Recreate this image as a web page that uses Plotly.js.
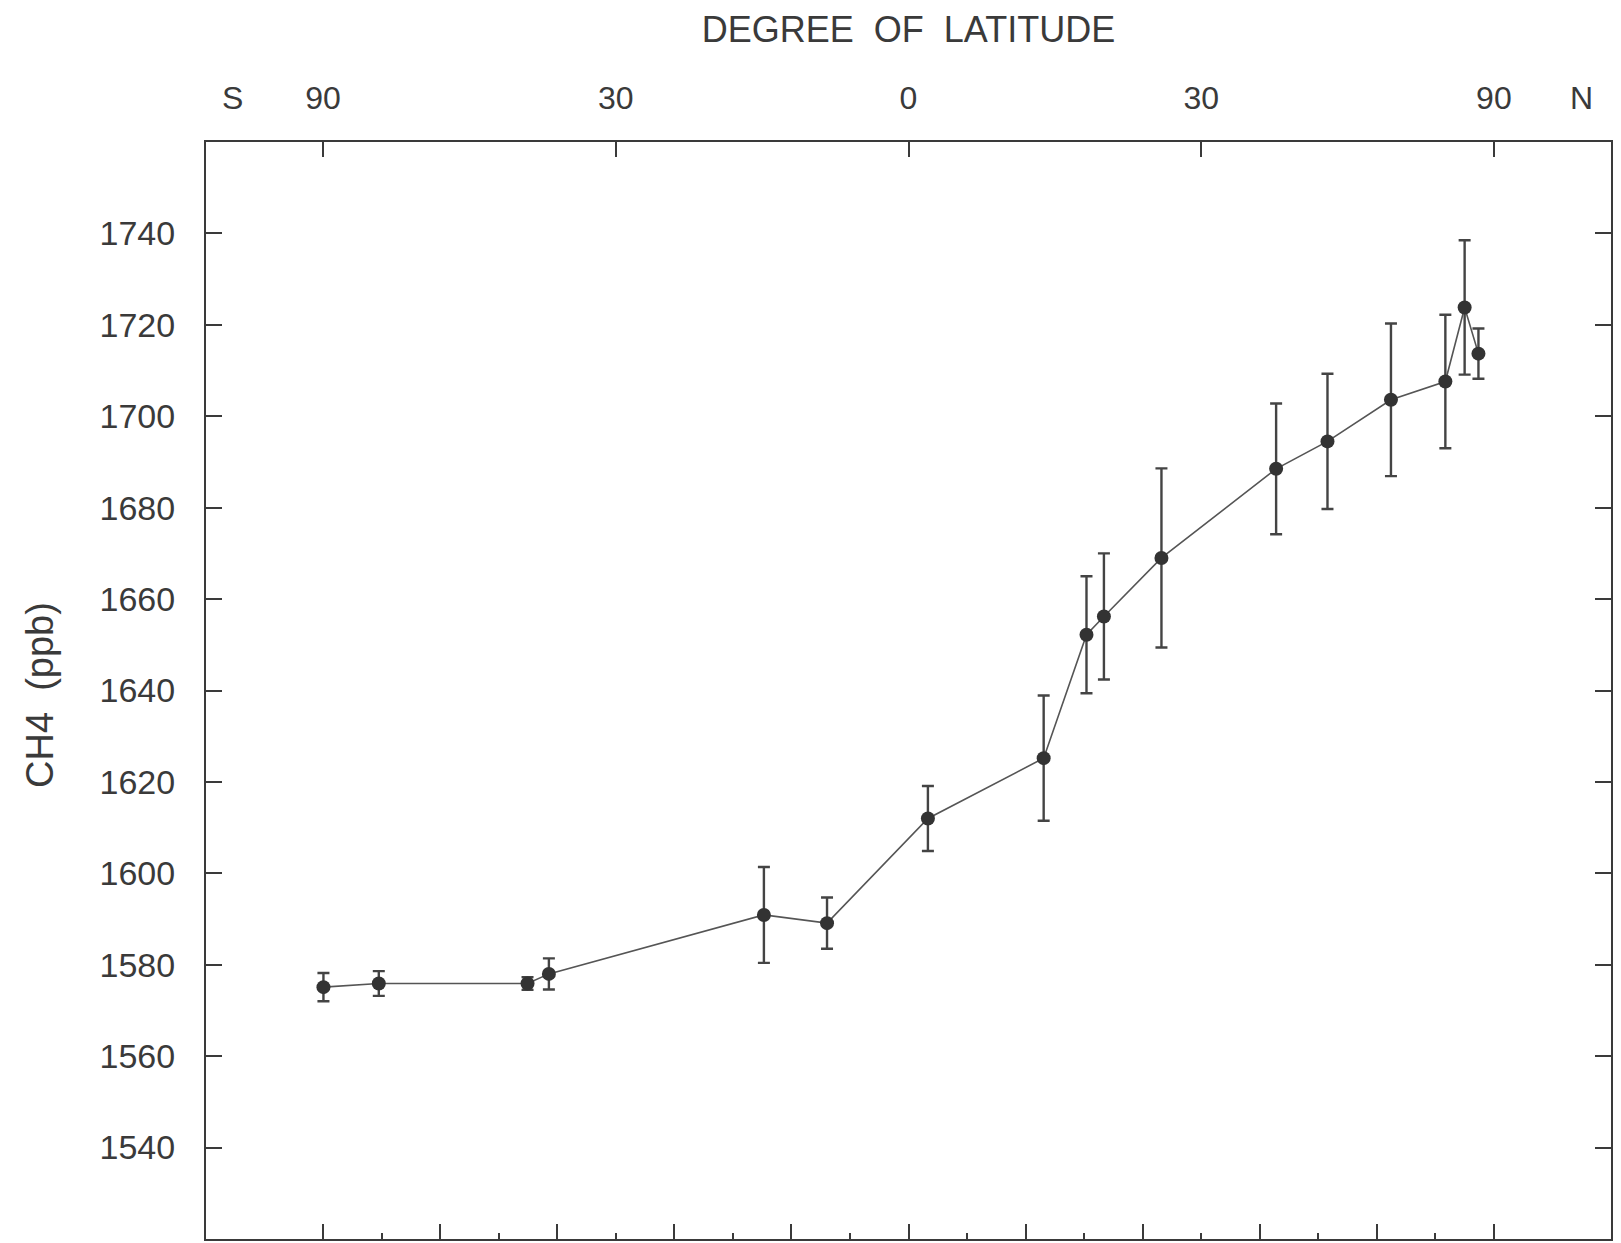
<!DOCTYPE html>
<html>
<head>
<meta charset="utf-8">
<script src="https://cdn.plot.ly/plotly-3.0.1.min.js"></script>
<style>
  html, body { margin: 0; padding: 0; background: #ffffff; }
  #chart { width: 1621px; height: 1243px; }
</style>
</head>
<body>
<div id="chart"></div>
<script>
// ---- data ----
// latitude of each station (degrees, negative = south)
const latitude = [-88, -64.8, -40.6, -37.9, -14.3, -8.0, 1.9, 13.35, 17.7, 19.5, 25.6, 38.9, 45.7, 55.5, 66.5, 71.8, 76.8];
// CH4 mixing ratio (ppb)
const ch4 = [1575.1, 1575.9, 1575.9, 1578.0, 1590.9, 1589.1, 1612.0, 1625.2, 1652.2, 1656.2, 1669.0, 1688.5, 1694.5, 1703.6, 1707.6, 1723.8, 1713.7];
// error (± ppb)
const ch4Err = [3.1, 2.7, 1.4, 3.4, 10.5, 5.6, 7.1, 13.7, 12.8, 13.8, 19.6, 14.3, 14.8, 16.7, 14.6, 14.7, 5.5];

// top axis (latitude) tick positions and labels
const topTickLat = [-90, -30, 0, 30, 90];
const topTickText = ['90', '30', '0', '30', '90'];
// bottom axis ticks in sine-of-latitude units
const bottomMajor = [-1, -0.8, -0.6, -0.4, -0.2, 0, 0.2, 0.4, 0.6, 0.8, 1];
const bottomMinor = [-0.9, -0.7, -0.5, -0.3, -0.1, 0.1, 0.3, 0.5, 0.7, 0.9];
// y axis ticks
const yTicks = [1540, 1560, 1580, 1600, 1620, 1640, 1660, 1680, 1700, 1720, 1740];

const rad = d => d * Math.PI / 180;
const xs = latitude.map(l => Math.sin(rad(l)));

const ink = '#3a3a3a';
const fontFam = '"Liberation Sans", Arial, sans-serif';

const trace = {
  type: 'scatter',
  mode: 'lines+markers',
  x: xs,
  y: ch4,
  xaxis: 'x',
  yaxis: 'y',
  line: { color: '#555555', width: 1.6 },
  marker: { color: '#333333', size: 14, symbol: 'circle' },
  error_y: { type: 'data', array: ch4Err, visible: true, color: '#444444', thickness: 2.4, width: 6 },
  showlegend: false,
  hoverinfo: 'x+y'
};

// invisible trace to activate bottom axis
const bottomTrace = {
  type: 'scatter', mode: 'markers', x: [0], y: [1600], xaxis: 'x2', yaxis: 'y',
  marker: { opacity: 0 }, showlegend: false, hoverinfo: 'skip'
};

const layout = {
  width: 1621,
  height: 1243,
  paper_bgcolor: '#ffffff',
  plot_bgcolor: '#ffffff',
  margin: { l: 206, r: 10, t: 142, b: 4 },
  font: { family: fontFam, color: ink },
  title: {
    text: 'DEGREE  OF  LATITUDE',
    font: { family: fontFam, size: 36, color: ink },
    xref: 'paper', x: 0.5, xanchor: 'center',
    yref: 'container', y: 1 - 29 / 1243, yanchor: 'middle'
  },
  xaxis: {
    side: 'top',
    range: [-1.2, 1.2],
    tickmode: 'array',
    tickvals: topTickLat.map(l => Math.sin(rad(l))),
    ticktext: topTickText,
    ticks: 'inside',
    ticklen: 15,
    tickwidth: 2,
    tickcolor: ink,
    ticklabelstandoff: 18,
    tickfont: { family: fontFam, size: 32, color: ink },
    showline: true,
    linecolor: ink,
    linewidth: 2,
    showgrid: false,
    zeroline: false,
    fixedrange: true
  },
  xaxis2: {
    overlaying: 'x',
    matches: 'x',
    side: 'bottom',
    anchor: 'y',
    range: [-1.2, 1.2],
    tickmode: 'array',
    tickvals: bottomMajor,
    ticks: 'inside',
    ticklen: 15,
    tickwidth: 2,
    tickcolor: ink,
    showticklabels: false,
    minor: { tickmode: 'array', tickvals: bottomMinor, ticks: 'inside', ticklen: 6, tickwidth: 2, tickcolor: ink },
    showline: true,
    linecolor: ink,
    linewidth: 2,
    showgrid: false,
    zeroline: false
  },
  yaxis: {
    range: [1520, 1760],
    tickmode: 'array',
    tickvals: yTicks,
    ticks: 'inside',
    ticklen: 16,
    tickwidth: 2,
    tickcolor: ink,
    ticklabelstandoff: 22,
    tickfont: { family: fontFam, size: 34, color: ink },
    showline: true,
    mirror: 'ticks',
    linecolor: ink,
    linewidth: 2,
    showgrid: false,
    zeroline: false
  },
  annotations: [
    { text: 'S', xref: 'paper', x: (232 - 206) / 1405, yref: 'paper', y: 1, yanchor: 'middle', xanchor: 'center', yshift: 44, showarrow: false, font: { family: fontFam, size: 32, color: ink } },
    { text: 'N', xref: 'paper', x: (1581 - 206) / 1405, yref: 'paper', y: 1, yanchor: 'middle', xanchor: 'center', yshift: 44, showarrow: false, font: { family: fontFam, size: 32, color: ink } },
    { text: 'CH4  (ppb)', textangle: -90, xref: 'paper', x: (40 - 206) / 1405, xanchor: 'center', yref: 'paper', y: (1239 - 695) / 1097, yanchor: 'middle', showarrow: false, font: { family: fontFam, size: 38, color: ink } }
  ]
};

Plotly.newPlot('chart', [trace, bottomTrace], layout, { displayModeBar: false, staticPlot: true });
</script>
</body>
</html>
